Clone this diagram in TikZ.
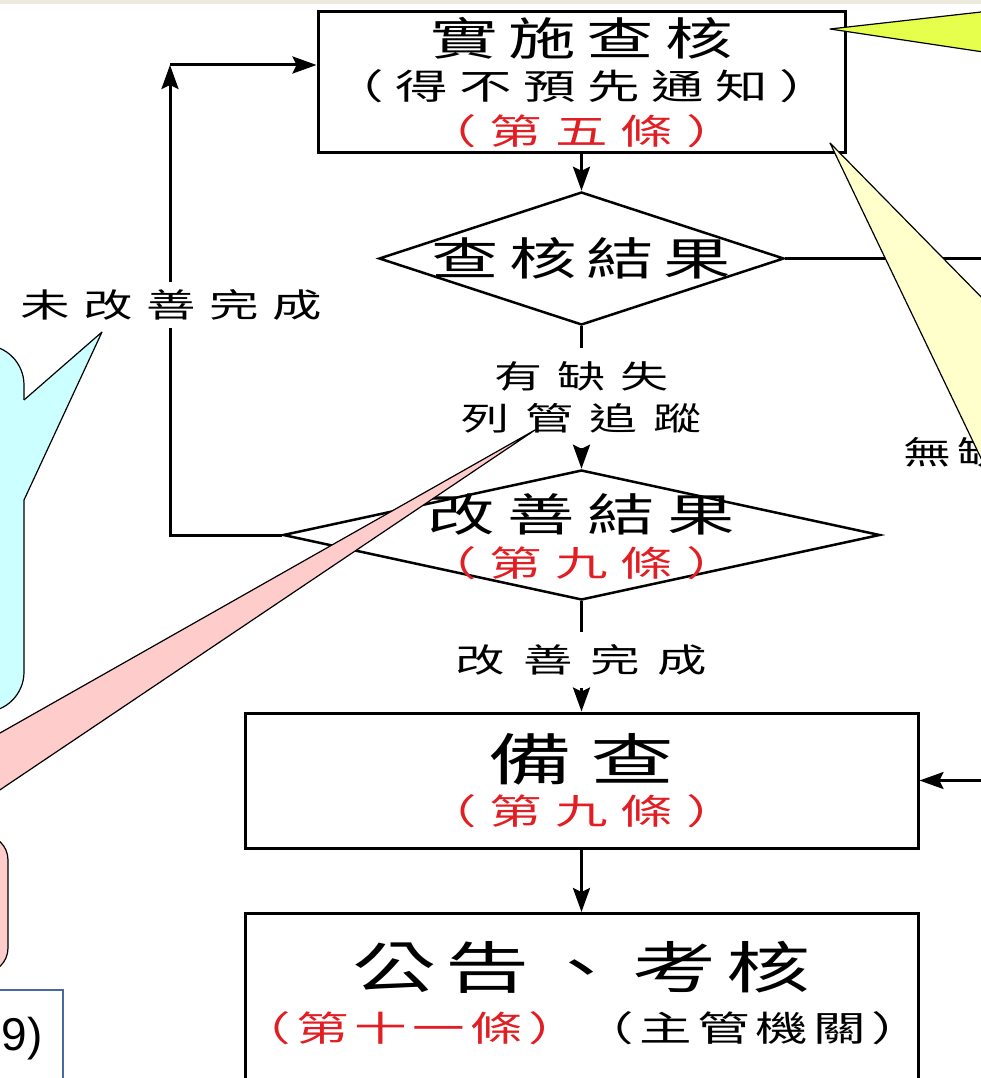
\documentclass[tikz,border=0pt]{standalone}
\usepackage{fontspec}
\usetikzlibrary{arrows.meta,shapes.geometric,positioning,calc}
\newfontfamily\zh[FakeStretch=1.5]{Noto Sans CJK TC}
\newfontfamily\lat{Liberation Sans}
\definecolor{zhred}{RGB}{225,30,35}
\definecolor{strip}{RGB}{236,233,221}
\definecolor{limenote}{RGB}{230,255,77}
\definecolor{palenote}{RGB}{255,255,204}
\definecolor{cyannote}{RGB}{204,255,255}
\definecolor{pinknote}{RGB}{255,204,204}
\definecolor{boxblue}{RGB}{70,105,160}
\tikzset{>={Stealth[length=24pt,width=17pt,inset=4pt]}}
% size, letter space (percent), text
\newcommand\zht[3]{{\fontsize{#1}{#1}\zh\addfontfeature{LetterSpace=#2}#3}}

\begin{document}
\begin{tikzpicture}[x=1pt,y=-1pt,
    box/.style={draw, line width=3pt, inner sep=0pt, align=center},
    dia/.style={draw, diamond, line width=2.5pt, inner sep=0pt},
    lbl/.style={align=center, inner sep=0pt},
    link/.style={line width=3pt},
    callout/.style={draw=black, line width=1.2pt, line join=round}]
                % Frame
                \useasboundingbox (0,0) rectangle (981,1078);
                \clip (0,0) rectangle (981,1078);
                \fill[strip] (0,0) rectangle (981,4);

                % Flow
                \node[box, minimum width=527pt, minimum height=141pt, font=\fontsize{35}{44.5}\selectfont]
                (audit) at (581.5,82.5)
                {\zht{45}{24}{實施查核}\\ \zht{35}{33}{（得不預先通知）}\\ \zht{35}{37}{\color{zhred}（第五條）}};
                \node[dia, minimum width=405pt, minimum height=133pt] (result) at (581.5,258.5) {};
                \node[lbl] (resulttxt) at (581.5,258) {\zht{45}{22}{查核結果}};
                \node[lbl, inner ysep=14pt, font=\fontsize{32}{42}\selectfont]
                (defect) at (581.5,397.5) {\zht{32}{47}{有缺失}\\ \zht{32}{51}{列管追蹤}};
                \node[dia, minimum width=597pt, minimum height=130pt] (improve) at (581.5,535) {};
                \node[lbl, font=\fontsize{35}{45}\selectfont]
                (improvetxt) at (581.5,537) {\zht{45}{28}{改善結果}\\ \zht{35}{37}{\color{zhred}（第九條）}};
                \node[lbl, inner ysep=12pt] (done) at (581.5,660) {\zht{33}{54}{改善完成}};
                \node[box, minimum width=673pt, minimum height=135pt, font=\fontsize{35}{44}\selectfont]
                (filed) at (581.5,780.5) {\zht{56}{31}{備查}\\ \zht{35}{37}{\color{zhred}（第九條）}};
                \node[box, minimum width=673pt, minimum height=200pt, anchor=north] (announce) at (581.5,912) {};
                \node[lbl, font=\fontsize{35}{53.5}\selectfont] (announcetxt) at (581.5,993)
                {\zht{56}{17}{公告、考核}\\ \zht{35}{16}{\textcolor{zhred}{（第十一條）}（主管機關）}};

                % Connectors
                \draw[link, ->] (audit.south) -- (result.north);
                \draw[link] (result.south) -- (defect.north);
                \draw[link, ->] (defect.south) -- (improve.north);
                \draw[link] (improve.south) -- (done.north);
                \draw[link, ->] (done.south) -- (filed.north);
                \draw[link, ->] (filed.south) -- (announce.north);
                \coordinate (loopcorner) at (170,65);
                \draw[link, ->] (improve.west) -| (loopcorner);
                \draw[link, ->] (loopcorner) -- (audit.west |- loopcorner);
                \node[lbl, fill=white, inner sep=8pt] (notdone) at (171,305) {\zht{33}{41}{未改善完成}};
                \coordinate (offright) at (1000,258.5);
                \draw[line width=2.2pt] (result.east) -- (offright);
                \coordinate (fromright) at (1000,780.5);
                \draw[line width=2.2pt, ->] (fromright) -- (filed.east);
                \node[lbl, anchor=west] (nodefect) at (903,452) {\zht{32}{20}{無缺失}};

                % Callouts
                \filldraw[callout, fill=limenote] (830,29) -- (990,11) -- (990,53) -- cycle;
                \filldraw[callout, fill=palenote] (830,143) -- (990,306) -- (990,477) -- cycle;
                \filldraw[callout, fill=cyannote, rounded corners=40pt] (-80,345) rectangle (24,712);
                \fill[cyannote] (18,400) -- (24,400) -- (102,332) -- (24,500) -- (18,500) -- cycle;
                \draw[callout] (24,400) -- (102,332) -- (24,500);
                \filldraw[callout, fill=pinknote, rounded corners=25pt] (-80,835) rectangle (8,973);
                \filldraw[callout, fill=pinknote] (535,430) -- (-30,750) -- (-30,810) -- cycle;
                \draw[boxblue, line width=1.8pt] (-20,990) rectangle (63,1100);
                \node[anchor=base east, inner sep=0pt, font=\lat\fontsize{46}{50}\selectfont] (refnote) at (43,1050) {9)};
\end{tikzpicture}
\end{document}
